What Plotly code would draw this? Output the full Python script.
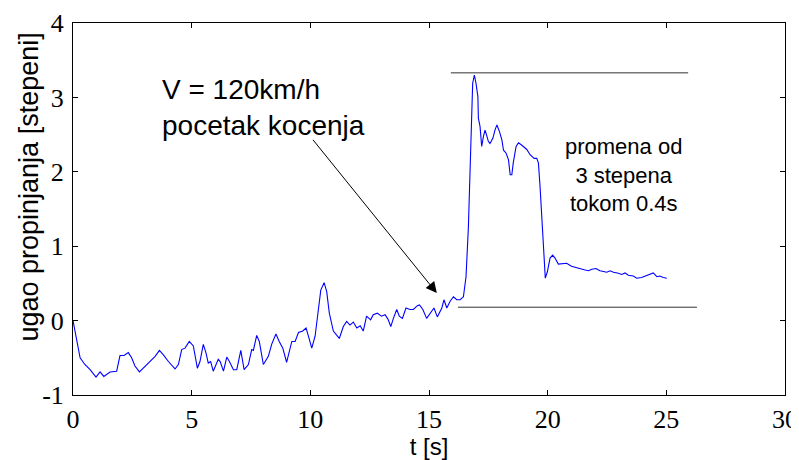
"""Pitch angle during braking at 120 km/h (MATLAB-style line plot)."""

import plotly.graph_objects as go

# time [s] and pitch angle [deg]
t_s = [
    0.00, 0.15, 0.30, 0.50, 0.72, 0.97, 1.14, 1.30, 1.56, 1.84,
    1.98, 2.15, 2.33, 2.47, 2.61, 2.80, 2.96, 3.24, 3.46, 3.64,
    3.81, 4.02, 4.30, 4.44, 4.58, 4.72, 4.90, 5.07, 5.24, 5.35,
    5.49, 5.60, 5.70, 5.80, 5.91, 6.12, 6.20, 6.34, 6.48, 6.59,
    6.76, 6.90, 7.07, 7.21, 7.39, 7.53, 7.60, 7.74, 7.85, 8.02,
    8.23, 8.37, 8.55, 8.69, 8.84, 9.00, 9.12, 9.22, 9.36, 9.50,
    9.68, 9.82, 9.92, 10.06, 10.20, 10.34, 10.44, 10.58, 10.69, 10.80,
    10.97, 11.22, 11.39, 11.53, 11.67, 11.81, 11.96, 12.10, 12.23, 12.37,
    12.54, 12.65, 12.82, 13.00, 13.15, 13.27, 13.39, 13.50, 13.64, 13.75,
    13.88, 14.03, 14.20, 14.34, 14.51, 14.60, 14.74, 14.90, 15.07, 15.21,
    15.35, 15.54, 15.63, 15.75, 15.89, 16.03, 16.17, 16.31, 16.45, 16.56,
    16.66, 16.73, 16.80, 16.84, 16.91, 16.98, 17.06, 17.08, 17.15, 17.22,
    17.29, 17.36, 17.43, 17.50, 17.57, 17.69, 17.78, 17.86, 17.97, 18.07,
    18.14, 18.25, 18.35, 18.42, 18.49, 18.55, 18.67, 18.77, 18.90, 19.12,
    19.26, 19.43, 19.54, 19.61, 19.68, 19.75, 19.82, 19.85, 19.90, 19.99,
    20.10, 20.21, 20.31, 20.45, 20.66, 20.80, 21.00, 21.23, 21.36, 21.58,
    21.72, 21.86, 22.04, 22.20, 22.35, 22.49, 22.63, 22.77, 22.94, 23.12,
    23.26, 23.40, 23.61, 23.75, 23.96, 24.18, 24.32, 24.45, 24.60, 24.73,
    24.87, 25.02,
]
pitch_deg = [
    0.00, -0.26, -0.50, -0.59, -0.66, -0.76, -0.69, -0.75, -0.69, -0.68,
    -0.47, -0.47, -0.43, -0.50, -0.61, -0.69, -0.64, -0.55, -0.48, -0.40,
    -0.46, -0.55, -0.65, -0.59, -0.39, -0.37, -0.28, -0.34, -0.64, -0.55,
    -0.32, -0.43, -0.57, -0.55, -0.68, -0.52, -0.55, -0.68, -0.49, -0.55,
    -0.66, -0.66, -0.40, -0.66, -0.59, -0.39, -0.40, -0.20, -0.28, -0.59,
    -0.48, -0.32, -0.18, -0.28, -0.37, -0.56, -0.39, -0.28, -0.28, -0.16,
    -0.14, -0.10, -0.21, -0.37, -0.21, 0.15, 0.41, 0.51, 0.39, 0.10,
    -0.14, -0.24, -0.08, -0.01, -0.06, -0.02, -0.10, -0.07, -0.14, 0.06,
    0.01, 0.08, 0.10, 0.06, 0.08, 0.02, -0.08, 0.03, 0.15, 0.06,
    0.03, 0.17, 0.15, 0.15, 0.20, 0.21, 0.15, 0.03, 0.10, 0.17,
    0.05, 0.17, 0.28, 0.17, 0.26, 0.32, 0.28, 0.28, 0.32, 0.59,
    1.26, 1.93, 2.61, 3.19, 3.30, 3.19, 3.01, 2.72, 2.61, 2.34,
    2.47, 2.56, 2.49, 2.41, 2.38, 2.45, 2.56, 2.63, 2.54, 2.43,
    2.29, 2.25, 2.16, 1.96, 1.96, 2.12, 2.34, 2.39, 2.36, 2.30,
    2.23, 2.18, 2.18, 2.12, 1.80, 1.35, 1.00, 0.73, 0.57, 0.66,
    0.84, 0.88, 0.84, 0.76, 0.76, 0.77, 0.73, 0.71, 0.69, 0.68,
    0.67, 0.69, 0.70, 0.67, 0.66, 0.65, 0.67, 0.65, 0.64, 0.62,
    0.64, 0.61, 0.60, 0.57, 0.58, 0.61, 0.62, 0.64, 0.59, 0.60,
    0.58, 0.57,
]

# reference levels marking the 3 degree change
peak_level = [3.33, 3.33]
peak_span = [15.92, 25.92]
base_level = [0.18, 0.18]
base_span = [16.22, 26.29]

x_ticks = [0, 5, 10, 15, 20, 25, 30]
y_ticks = [-1, 0, 1, 2, 3, 4]

SANS = "Liberation Sans, Arial, sans-serif"
SERIF = "Liberation Serif, Times New Roman, serif"

fig = go.Figure()
fig.add_trace(
    go.Scatter(x=t_s, y=pitch_deg, mode="lines",
               line=dict(color="#0000ff", width=1.1), showlegend=False)
)
for xs, ys in ((peak_span, peak_level), (base_span, base_level)):
    fig.add_trace(
        go.Scatter(x=xs, y=ys, mode="lines",
                   line=dict(color="#333333", width=1), showlegend=False)
    )

# braking start label with arrow
fig.add_annotation(
    x=15.33, y=0.37, ax=10.06, ay=2.45, xref="x", yref="y",
    axref="x", ayref="y", text="", showarrow=True,
    arrowhead=2, arrowsize=2.2, arrowwidth=1, arrowcolor="black",
)
fig.add_annotation(
    x=3.67, y=2.86, xref="x", yref="y", text="V = 120km/h<br>pocetak kocenja",
    showarrow=False, xanchor="left", yanchor="middle", align="left",
    font=dict(family=SANS, size=28, color="black"),
)
fig.add_annotation(
    x=23.2, y=1.96, xref="x", yref="y",
    text="promena od<br>3 stepena<br>tokom 0.4s",
    showarrow=False, xanchor="center", yanchor="middle", align="center",
    font=dict(family=SANS, size=22, color="black"),
)
fig.add_annotation(
    x=-0.062, y=0.56, xref="paper", yref="paper",
    text="ugao propinjanja [stepeni]", textangle=-90, showarrow=False,
    xanchor="center", yanchor="middle",
    font=dict(family=SANS, size=27, color="black"),
)

axis_style = dict(
    showline=True, linecolor="black", linewidth=1, mirror="ticks",
    ticks="inside", ticklen=5, tickcolor="black", showgrid=False,
    zeroline=False, automargin=False,
    tickfont=dict(family=SERIF, size=26, color="black"),
)
fig.update_xaxes(
    range=[0, 30], tickvals=x_ticks, ticktext=[str(v) for v in x_ticks],
    ticklabelstandoff=1,
    title=dict(text="t [s]", font=dict(family=SANS, size=24, color="black"),
               standoff=0),
    **axis_style,
)
fig.update_yaxes(
    range=[-1, 4], tickvals=y_ticks, ticktext=[str(v) for v in y_ticks],
    ticklabelstandoff=3, **axis_style,
)

# the page body adds an 8px offset, so the figure is sized to fit the window
fig.update_layout(
    width=791, height=452,
    margin=dict(l=65, r=14, t=15, b=65),
    plot_bgcolor="white", paper_bgcolor="white",
)

fig.write_html("out.html")
